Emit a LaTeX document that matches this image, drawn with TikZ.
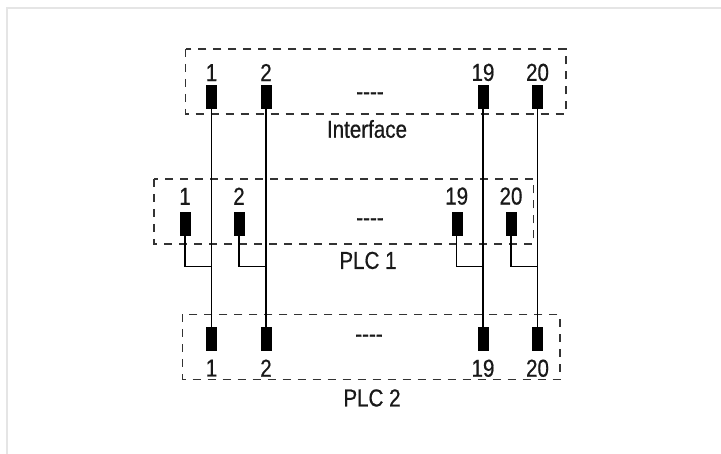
\documentclass[tikz,border=0pt]{standalone}
\usepackage{fontspec}
\setmainfont{Liberation Sans}[FakeStretch=0.84,FakeBold=0.6]
\usetikzlibrary{positioning}

\begin{document}
\begin{tikzpicture}[x=1pt,y=-1pt,font=\fontsize{24.5}{28}\selectfont]
\tikzstyle{every node}+=[inner sep=0pt,text=black!90]
\tikzstyle{contact}=[draw=black,fill=black,minimum width=10pt,minimum height=23pt]
\tikzstyle{dashbox}=[draw=black!80,line width=1.4pt,dash pattern=on 8pt off 7pt]
\tikzstyle{wire}=[draw=black,line width=1.1pt]
\useasboundingbox (0,0) rectangle (721,454);
\draw [black!10,line width=1.4pt] (7,454) -- (7,8) -- (721,8);
% Interface
\draw [dashbox] (185.7,49) rectangle (566,114);
\node [contact] (if1) at (211.5,97) {};
\node [contact] (if2) at (266,97) {};
\node [contact] (if19) at (483,97) {};
\node [contact] (if20) at (537.5,97) {};
\node [above=4pt of if1] (if1n) {1};
\node [above=4pt of if2] (if2n) {2};
\node [above=4pt of if19] (if19n) {19};
\node [above=4pt of if20] (if20n) {20};
\node (ifdots) at (370,96) {-{}-{}-{}-};
\node (iface) at (367,129) {Interface};
% PLC 1
\draw [dashbox] (154,179) rectangle (533.3,244);
\node [contact] (pa1) at (185,223.7) {};
\node [contact] (pa2) at (239,223.7) {};
\node [contact] (pa19) at (456.7,223.7) {};
\node [contact] (pa20) at (511,223.7) {};
\node [above=7pt of pa1] (pa1n) {1};
\node [above=7pt of pa2] (pa2n) {2};
\node [above=7pt of pa19] (pa19n) {19};
\node [above=7pt of pa20] (pa20n) {20};
\node (padots) at (370,222) {-{}-{}-{}-};
\node (plca) at (368,260.5) {PLC 1};
% PLC 2
\draw [dashbox] (182.7,314.3) rectangle (560,379.3);
\node [contact] (pb1) at (211.5,339.2) {};
\node [contact] (pb2) at (266,339.2) {};
\node [contact] (pb19) at (483,339.2) {};
\node [contact] (pb20) at (537.5,339.2) {};
\node [below=8.5pt of pb1] (pb1n) {1};
\node [below=8.5pt of pb2] (pb2n) {2};
\node [below=8.5pt of pb19] (pb19n) {19};
\node [below=8.5pt of pb20] (pb20n) {20};
\node (pbdots) at (369,338.5) {-{}-{}-{}-};
\node (plcb) at (372,398) {PLC 2};
% wiring
\coordinate (j1) at (211.5,266.5);
\coordinate (j2) at (266,266.5);
\coordinate (j19) at (483,266.5);
\coordinate (j20) at (537.5,266.5);
\draw [wire] (if1.south) -- (pb1.north);
\draw [wire] (if2.south) -- (pb2.north);
\draw [wire] (if19.south) -- (pb19.north);
\draw [wire] (if20.south) -- (pb20.north);
\draw [wire] (pa1.south) |- (j1);
\draw [wire] (pa2.south) |- (j2);
\draw [wire] (pa19.south) |- (j19);
\draw [wire] (pa20.south) |- (j20);
\end{tikzpicture}
\end{document}
